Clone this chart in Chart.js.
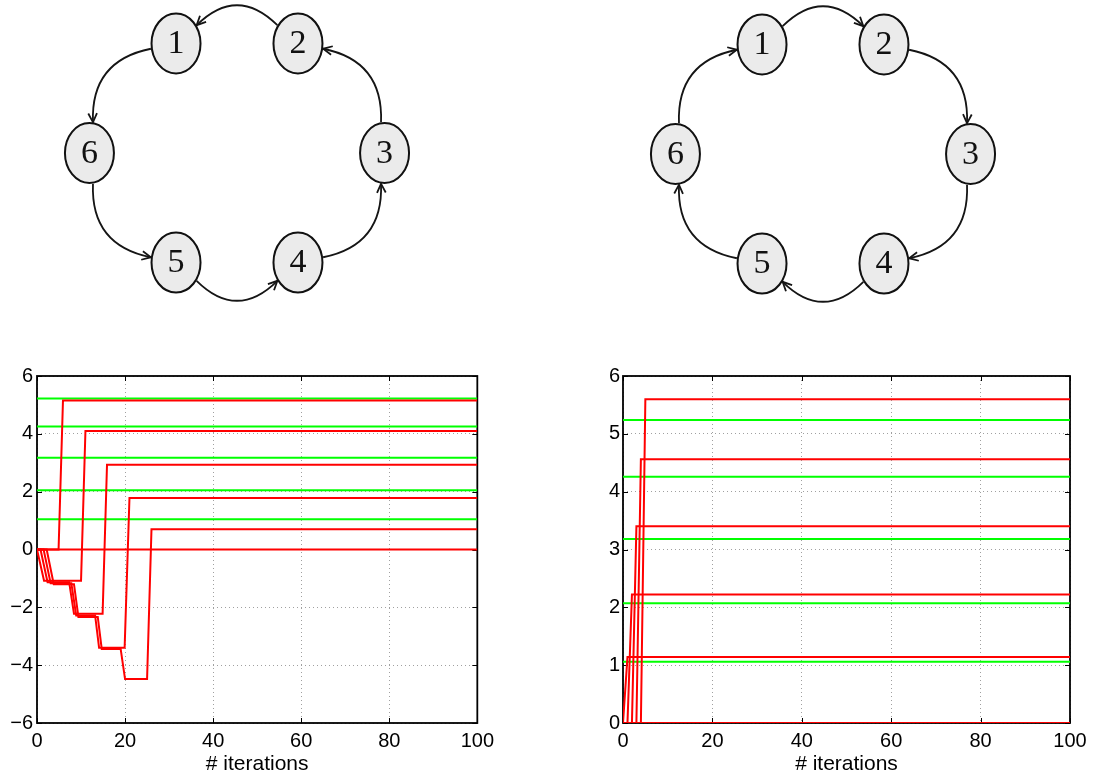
<!DOCTYPE html>
<html>
<head>
<meta charset="utf-8">
<script src="https://cdn.jsdelivr.net/npm/chart.js@4.4.1/dist/chart.umd.min.js"></script>
<style>
  body { margin: 0; background: #fff; }
  #wrap { position: relative; width: 1093px; height: 775px; overflow: hidden; }
  canvas { position: absolute; }
</style>
</head>
<body>
<div id="wrap">
  <canvas id="graphLeft" width="400" height="310" style="left:37px;top:-2px"></canvas>
  <canvas id="graphRight" width="400" height="310" style="left:623px;top:-1px"></canvas>
  <canvas id="plotLeft" width="500" height="415" style="left:0;top:360px"></canvas>
  <canvas id="plotRight" width="533" height="415" style="left:560px;top:360px"></canvas>
</div>
<script>
// graph nodes (layout units) and directed edges
const nodeLabels = ['1', '2', '3', '4', '5', '6'];
const nodeX = [-1, 1, 2.42, 1, -1, -2.42];
const nodeY = [1, 1, 0, -1, -1, 0];
const edgesLeft = [[2, 1], [1, 6], [6, 5], [5, 4], [4, 3], [3, 2]];
const edgesRight = [[1, 2], [2, 3], [3, 4], [4, 5], [5, 6], [6, 1]];

// axes
const iterRange = [0, 100];
const iterTicks = [0, 20, 40, 60, 80, 100];
const leftYTicks = [-6, -4, -2, 0, 2, 4, 6];
const rightYTicks = [0, 1, 2, 3, 4, 5, 6];

// left plot: green reference levels and red trajectories
const leftGreen = [5.22, 4.25, 3.17, 2.05, 1.05];
const leftRed0x = [0, 100];
const leftRed0y = [0, 0];
const leftRed1x = [0, 4.9, 5.9, 100];
const leftRed1y = [0, 0, 5.15, 5.15];
const leftRed2x = [0, 1.6, 10, 11, 100];
const leftRed2y = [0, -1.08, -1.08, 4.1, 4.1];
const leftRed3x = [0, 0.8, 2.4, 7.3, 8.4, 14.9, 15.9, 100];
const leftRed3y = [0, 0, -1.13, -1.13, -2.22, -2.22, 2.93, 2.93];
const leftRed4x = [0, 1.5, 3.1, 7.8, 8.9, 13.2, 14.1, 19.9, 21, 100];
const leftRed4y = [0, 0, -1.17, -1.17, -2.28, -2.28, -3.4, -3.4, 1.78, 1.78];
const leftRed5x = [0, 2.2, 3.8, 8.4, 9.4, 13.8, 14.7, 19, 20, 25, 26, 100];
const leftRed5y = [0, 0, -1.2, -1.2, -2.33, -2.33, -3.44, -3.44, -4.48, -4.48, 0.7, 0.7];

// right plot
const rightGreen = [5.24, 4.26, 3.18, 2.07, 1.06, 0];
const rightRed0x = [0, 100];
const rightRed0y = [0, 0];
const rightRed1x = [0, 1, 100];
const rightRed1y = [0, 1.14, 1.14];
const rightRed2x = [0, 1, 2, 100];
const rightRed2y = [0, 0, 2.22, 2.22];
const rightRed3x = [0, 2, 3, 100];
const rightRed3y = [0, 0, 3.4, 3.4];
const rightRed4x = [0, 3, 4, 100];
const rightRed4y = [0, 0, 4.56, 4.56];
const rightRed5x = [0, 4, 5, 100];
const rightRed5y = [0, 0, 5.6, 5.6];

Chart.defaults.font.family = '"Liberation Sans", Arial, sans-serif';
Chart.defaults.color = '#000';

// ---------- graph diagrams ----------
const RX = 24.5, RY = 30;

function graphPlugin(edges) {
  return {
    id: 'graph',
    afterDatasetsDraw(chart) {
      const ctx = chart.ctx;
      const pts = chart.getDatasetMeta(0).data;
      const cx = chart.scales.x.getPixelForValue(0);
      const cy = chart.scales.y.getPixelForValue(0);
      const rot = 0.63;
      const onNode = (p, a) => ({ x: p.x + (RX + 1) * Math.cos(a), y: p.y + (RY + 1) * Math.sin(a) });
      const far = (p, q) => Math.hypot(p.x - cx, p.y - cy) > Math.hypot(q.x - cx, q.y - cy) ? p : q;
      const attach = (p, q) => {
        const a = Math.atan2((q.y - p.y) / RY, (q.x - p.x) / RX);
        return far(onNode(p, a + rot), onNode(p, a - rot));
      };

      ctx.save();
      ctx.strokeStyle = '#151515';
      ctx.lineWidth = 1.8;
      edges.forEach(([from, to]) => {
        const pa = pts[from - 1], pb = pts[to - 1];
        const s = attach(pa, pb), e = attach(pb, pa);
        const mx = (s.x + e.x) / 2, my = (s.y + e.y) / 2;
        let nx = -(e.y - s.y), ny = e.x - s.x;
        const nl = Math.hypot(nx, ny);
        nx /= nl; ny /= nl;
        if ((mx - cx) * nx + (my - cy) * ny < 0) { nx = -nx; ny = -ny; }
        const k = 40;
        const c = { x: mx + nx * k, y: my + ny * k };
        ctx.beginPath();
        ctx.moveTo(s.x, s.y);
        ctx.quadraticCurveTo(c.x, c.y, e.x, e.y);
        ctx.stroke();
        // open arrow head
        const ang = Math.atan2(e.y - c.y, e.x - c.x);
        const L = 10, h = 0.45;
        ctx.beginPath();
        ctx.moveTo(e.x - L * Math.cos(ang - h), e.y - L * Math.sin(ang - h));
        ctx.lineTo(e.x, e.y);
        ctx.lineTo(e.x - L * Math.cos(ang + h), e.y - L * Math.sin(ang + h));
        ctx.stroke();
      });

      pts.forEach((p, i) => {
        ctx.beginPath();
        ctx.ellipse(p.x, p.y, RX, RY, 0, 0, Math.PI * 2);
        ctx.fillStyle = '#ebebeb';
        ctx.fill();
        ctx.lineWidth = 2;
        ctx.strokeStyle = '#111';
        ctx.stroke();
        ctx.fillStyle = '#111';
        ctx.font = '34px "Liberation Serif", "Times New Roman", serif';
        ctx.textAlign = 'center';
        ctx.textBaseline = 'middle';
        ctx.fillText(nodeLabels[i], p.x, p.y + 1);
      });
      ctx.restore();
    }
  };
}

function graphChart(id, edges) {
  return new Chart(document.getElementById(id), {
    type: 'scatter',
    data: {
      datasets: [{
        data: nodeLabels.map((n, i) => ({ x: nodeX[i], y: nodeY[i] })),
        pointRadius: 0
      }]
    },
    options: {
      responsive: false,
      animation: false,
      events: [],
      layout: { padding: 0 },
      plugins: { legend: { display: false }, tooltip: { enabled: false } },
      scales: {
        x: { type: 'linear', display: false, min: -3.28, max: 3.28 },
        y: { type: 'linear', display: false, min: -1.415, max: 1.415 }
      }
    },
    plugins: [graphPlugin(edges)]
  });
}

graphChart('graphLeft', edgesLeft);
graphChart('graphRight', edgesRight);

// ---------- iteration plots ----------
const boxPlugin = {
  id: 'box',
  beforeDatasetsDraw(chart) {
    const { ctx, chartArea: a, scales } = chart;
    ctx.save();
    ctx.strokeStyle = '#000';
    ctx.lineWidth = 1;
    const t = 5;
    ctx.beginPath();
    scales.x.ticks.forEach(tk => {
      const px = Math.round(scales.x.getPixelForValue(tk.value)) + 0.5;
      ctx.moveTo(px, a.bottom); ctx.lineTo(px, a.bottom - t);
      ctx.moveTo(px, a.top); ctx.lineTo(px, a.top + t);
    });
    scales.y.ticks.forEach(tk => {
      const py = Math.round(scales.y.getPixelForValue(tk.value)) + 0.5;
      ctx.moveTo(a.left, py); ctx.lineTo(a.left + t, py);
      ctx.moveTo(a.right, py); ctx.lineTo(a.right - t, py);
    });
    ctx.stroke();
    ctx.lineWidth = 1.8;
    ctx.strokeRect(a.left, a.top, a.right - a.left, a.bottom - a.top);
    ctx.restore();
  }
};

function toPoints(xs, ys) {
  return xs.map((x, i) => ({ x: x, y: ys[i] }));
}

function plotChart(id, reds, greens, yTicks, yWidth, padRight, yPad) {
  const datasets = [];
  reds.forEach(([xs, ys]) => datasets.push({
    data: toPoints(xs, ys), borderColor: '#ff0000', borderWidth: 2, pointRadius: 0
  }));
  greens.forEach(v => datasets.push({
    data: iterRange.map(x => ({ x: x, y: v })), borderColor: '#00ff00', borderWidth: 2, pointRadius: 0
  }));
  const gridOpts = { color: '#a0a0a0', lineWidth: 1, drawTicks: false };
  const tickFont = { size: 20 };
  return new Chart(document.getElementById(id), {
    type: 'line',
    data: { datasets: datasets },
    options: {
      responsive: false,
      animation: false,
      events: [],
      layout: { padding: { top: 16, right: padRight, left: 0, bottom: 0 } },
      elements: { line: { tension: 0 } },
      plugins: { legend: { display: false }, tooltip: { enabled: false } },
      scales: {
        x: {
          type: 'linear',
          min: iterTicks[0],
          max: iterTicks[iterTicks.length - 1],
          afterBuildTicks: s => { s.ticks = iterTicks.map(v => ({ value: v })); },
          ticks: { font: tickFont, color: '#000', padding: 6, maxRotation: 0, autoSkip: false },
          grid: gridOpts,
          border: { display: false, dash: [1, 3] },
          title: { display: true, text: '# iterations', color: '#000', font: { size: 21, lineHeight: 1 }, padding: 0 },
          afterFit: s => { s.height = 52; }
        },
        y: {
          type: 'linear',
          min: yTicks[0],
          max: yTicks[yTicks.length - 1],
          afterBuildTicks: s => { s.ticks = yTicks.map(v => ({ value: v })); },
          ticks: {
            font: tickFont, color: '#000', padding: yPad, autoSkip: false,
            callback: v => v < 0 ? '\u2212' + (-v) : String(v)
          },
          grid: gridOpts,
          border: { display: false, dash: [1, 3] },
          afterFit: s => { s.width = yWidth; }
        }
      }
    },
    plugins: [boxPlugin]
  });
}

plotChart('plotLeft', [
  [leftRed0x, leftRed0y], [leftRed1x, leftRed1y], [leftRed2x, leftRed2y],
  [leftRed3x, leftRed3y], [leftRed4x, leftRed4y], [leftRed5x, leftRed5y]
], leftGreen, leftYTicks, 37, 18, 4);

plotChart('plotRight', [
  [rightRed0x, rightRed0y], [rightRed1x, rightRed1y], [rightRed2x, rightRed2y],
  [rightRed3x, rightRed3y], [rightRed4x, rightRed4y], [rightRed5x, rightRed5y]
], rightGreen, rightYTicks, 63, 23, 3);
</script>
</body>
</html>
